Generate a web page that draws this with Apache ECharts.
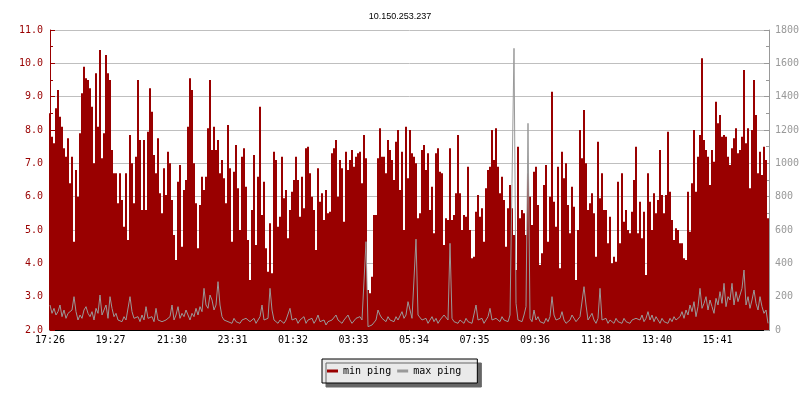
<!DOCTYPE html>
<html>
<head>
<meta charset="utf-8">
<script src="https://cdn.jsdelivr.net/npm/echarts@6/dist/echarts.min.js"></script>
<style>
  html, body { margin: 0; padding: 0; background: #fff; }
</style>
</head>
<body>
<div id="chart" style="width: 800px; height: 400px;"></div>
<script>
// one sample every 4 minutes, starting at 17:26
const startTime = '17:26';
const stepMinutes = 4;

const tickLabels = ['17:26', '19:27', '21:30', '23:31', '01:32', '03:33',
  '05:34', '07:35', '09:36', '11:38', '13:40', '15:41'];

// min ping, left axis
const minPing = [
  8.5, 7.8, 7.6, 8.65, 9.2, 8.4, 8.1, 7.45, 7.2, 7.75,
  6.4, 7.2, 4.65, 6.8, 6.0, 7.9, 9.1, 9.9, 9.55, 9.5,
  9.25, 8.7, 7.0, 9.7, 8.1, 10.4, 7.15, 7.9, 10.25, 9.7,
  9.5, 7.4, 6.7, 6.7, 5.8, 6.7, 5.9, 5.1, 6.7, 4.7,
  7.85, 7.0, 5.8, 7.2, 9.5, 7.7, 5.6, 7.7, 5.6, 7.95,
  9.25, 8.55, 7.25, 6.7, 7.75, 6.1, 5.5, 6.85, 6.05, 7.35,

  7.0, 5.9, 4.85, 4.1, 6.45, 6.95, 4.5, 6.2, 6.5, 8.1,
  9.55, 9.2, 7.0, 5.8, 4.45, 5.75, 6.6, 6.2, 6.6, 8.05,
  9.5, 7.4, 8.1, 7.4, 7.7, 6.7, 7.1, 6.55, 5.8, 8.15,
  6.85, 4.65, 6.75, 7.55, 6.25, 5.0, 7.2, 7.45, 6.3, 4.7,
  3.5, 5.6, 7.25, 4.55, 6.6, 8.7, 5.45, 6.45, 4.45, 3.75,
  5.2, 3.7, 7.35, 7.1, 5.1, 5.4, 7.2, 5.95, 6.2, 4.75,

  5.6, 6.15, 6.5, 7.2, 6.5, 5.4, 6.6, 5.65, 7.45, 7.5,
  6.7, 6.0, 5.6, 4.4, 6.85, 5.85, 6.1, 5.3, 6.2, 5.5,
  5.55, 7.3, 7.45, 7.7, 6.0, 7.1, 6.85, 5.25, 7.35, 6.8,
  7.1, 7.4, 6.9, 7.2, 7.3, 7.35, 6.4, 7.85, 7.15, 3.2,
  3.1, 3.6, 5.45, 5.45, 7.15, 8.05, 7.2, 7.2, 6.7, 7.7,
  7.4, 7.1, 6.5, 7.65, 8.0, 6.2, 7.35, 5.0, 8.1, 6.55,

  8.0, 7.3, 7.2, 7.0, 5.35, 5.5, 7.4, 7.55, 6.8, 7.3,
  5.6, 6.3, 4.9, 7.3, 7.45, 6.75, 6.7, 4.55, 5.35, 5.3,
  7.45, 5.3, 5.45, 6.1, 7.85, 6.1, 5.0, 5.45, 5.4, 6.9,
  5.0, 4.15, 4.2, 5.55, 6.05, 5.4, 5.65, 4.65, 6.25, 6.8,
  6.9, 8.0, 7.1, 8.05, 6.9, 6.1, 6.6, 5.9, 4.5, 5.65,
  6.35, 5.65, 4.85, 3.8, 7.5, 5.35, 5.6, 5.5, 4.85, 6.7,

  6.0, 5.15, 6.75, 6.9, 5.75, 3.95, 4.3, 6.35, 6.95, 4.65,
  6.0, 9.15, 5.85, 5.1, 6.9, 3.85, 7.35, 6.55, 7.0, 5.75,
  4.9, 6.3, 5.7, 3.5, 5.0, 8.0, 7.15, 8.6, 7.0, 5.6,
  5.8, 6.1, 5.5, 4.2, 7.65, 5.95, 6.7, 5.6, 5.6, 4.6,
  5.4, 4.0, 4.2, 4.05, 6.45, 4.6, 6.7, 5.25, 5.6, 5.0,
  4.9, 5.55, 6.5, 7.5, 4.9, 5.85, 4.75, 5.55, 3.65, 6.7,

  5.85, 5.0, 6.1, 5.5, 5.9, 7.4, 6.05, 5.5, 6.05, 7.95,
  6.15, 5.3, 4.7, 5.05, 5.0, 4.6, 4.6, 4.15, 4.1, 6.15,
  4.95, 6.4, 8.0, 6.15, 7.2, 7.85, 10.15, 7.7, 7.4, 7.2,
  6.35, 7.4, 7.05, 8.85, 8.2, 8.45, 7.8, 7.85, 7.8, 7.2,
  6.95, 7.45, 7.75, 8.05, 7.3, 7.4, 7.8, 9.8, 7.6, 8.05,
  6.25, 8.0, 9.5, 8.45, 6.7, 7.35, 6.65, 7.5, 7.1, 5.35
];

// max ping, right axis
const maxPing = [
  150, 100, 130, 90, 110, 150, 80, 120, 70, 100,
  90, 120, 200, 110, 60, 90, 70, 120, 140, 100,
  80, 110, 60, 130, 100, 210, 90, 120, 150, 70,
  200, 130, 80, 100, 60, 70, 50, 80, 60, 50,
  200, 110, 70, 60, 80, 50, 90, 60, 140, 70,
  60, 80, 50, 130, 60, 70, 50, 40, 60, 50,

  80, 150, 60, 90, 140, 70, 100, 80, 120, 90,
  60, 100, 80, 130, 90, 140, 110, 250, 150, 130,
  210, 180, 120, 150, 290, 150, 80, 60, 70, 50,
  60, 40, 70, 50, 60, 40, 60, 50, 70, 80,
  50, 60, 70, 40, 60, 80, 150, 60, 50, 70,
  250, 120, 60, 50, 40, 60, 50, 40, 60, 50,

  130, 60, 50, 70, 40, 60, 50, 80, 40, 60,
  50, 70, 40, 60, 90, 50, 40, 60, 30, 50,
  40, 60, 50, 90, 60, 50, 40, 60, 50, 90,
  60, 40, 50, 70, 60, 80, 60, 70, 530, 20,
  20, 30, 20, 60, 120, 90, 70, 60, 50, 80,
  60, 70, 50, 80, 60, 50, 110, 70, 90, 170,

  160, 70, 60, 545, 90, 100, 60, 50, 70, 40,
  60, 80, 50, 70, 40, 60, 50, 90, 80, 60,
  520, 70, 50, 60, 40, 60, 50, 40, 70, 50,
  60, 40, 50, 150, 60, 50, 70, 40, 60, 80,
  130, 60, 50, 70, 60, 50, 80, 60, 70, 50,
  90, 880, 1690, 160, 60, 70, 50, 90, 140, 1240,

  70, 50, 120, 60, 80, 50, 60, 40, 70, 50,
  80, 200, 90, 60, 50, 70, 110, 60, 40, 50,
  60, 90, 100, 50, 60, 80, 70, 260, 150, 60,
  50, 100, 60, 40, 70, 250, 60, 50, 70, 40,
  60, 50, 40, 70, 50, 60, 40, 70, 50, 60,
  40, 60, 50, 70, 80, 60, 90, 50, 70, 110,

  60, 90, 50, 80, 60, 40, 70, 50, 60, 40,
  70, 50, 80, 60, 50, 80, 110, 70, 120, 90,
  150, 110, 170, 80, 140, 250, 130, 160, 200, 120,
  180, 140, 100, 190, 150, 230, 160, 280, 140, 200,
  180, 280, 150, 230, 170, 210, 250, 360, 150, 200,
  130, 180, 240, 160, 120, 200, 140, 100, 120, 40
];

function toMinutes(s) {
  const p = s.split(':');
  return parseInt(p[0], 10) * 60 + parseInt(p[1], 10);
}
const t0 = toMinutes(startTime);
const tickMinutes = tickLabels.map(function (s) {
  return (toMinutes(s) - t0 + 1440) % 1440;
});

const minData = minPing.map(function (v, i) { return [i * stepMinutes, v]; });
const maxData = maxPing.map(function (v, i) { return [i * stepMinutes, v]; });

const mono = 'DejaVu Sans Mono';
const red = '#990000';
const gray = '#999999';

const chart = echarts.init(document.getElementById('chart'), null, { renderer: 'canvas' });
const option = {
  animation: false,
  backgroundColor: '#ffffff',
  title: {
    text: '10.150.253.237',
    left: 'center',
    top: 7,
    textStyle: { fontFamily: 'Liberation Sans', fontSize: 9, fontWeight: 'normal', color: '#000' }
  },
  grid: { left: 50, right: 31, top: 30, bottom: 70, containLabel: false, outerBoundsMode: 'none' },
  legend: {
    left: 322,
    top: 359,
    orient: 'horizontal',
    icon: 'rect',
    itemWidth: 11,
    itemHeight: 3,
    itemGap: 6,
    padding: [7, 16, 7, 5],
    backgroundColor: '#eaeaea',
    borderColor: '#000',
    borderWidth: 1,
    borderRadius: 0,
    shadowColor: '#666666',
    shadowBlur: 0,
    shadowOffsetX: 4,
    shadowOffsetY: 4,
    textStyle: { fontFamily: mono, fontSize: 10, color: '#000' },
    data: ['min ping', 'max ping']
  },
  xAxis: {
    type: 'value',
    min: 0,
    max: 1438,
    axisLine: { lineStyle: { color: '#000', width: 1 } },
    axisTick: { inside: true, length: 5, lineStyle: { color: '#000' }, customValues: tickMinutes },
    axisLabel: {
      customValues: tickMinutes,
      margin: 5,
      fontFamily: mono,
      fontSize: 10,
      color: '#000',
      formatter: function (v) {
        const k = tickMinutes.indexOf(v);
        return k >= 0 ? tickLabels[k] : '';
      }
    },
    splitLine: { show: false }
  },
  yAxis: [
    {
      type: 'value',
      min: 2,
      max: 11,
      interval: 1,
      axisLine: { show: true, lineStyle: { color: red } },
      axisTick: { show: true, inside: true, length: 5, lineStyle: { color: red } },
      minorTick: { show: true, splitNumber: 2, length: 3, lineStyle: { color: red } },
      axisLabel: {
        margin: 7,
        fontFamily: mono,
        fontSize: 10,
        color: red,
        formatter: function (v) { return v.toFixed(1); }
      },
      splitLine: { show: true, lineStyle: { color: '#bfbfbf', width: 1 } }
    },
    {
      type: 'value',
      position: 'right',
      min: 0,
      max: 1800,
      interval: 200,
      axisLine: { show: true, lineStyle: { color: gray } },
      axisTick: { show: true, inside: true, length: 5, lineStyle: { color: gray } },
      minorTick: { show: true, splitNumber: 2, length: 3, lineStyle: { color: gray } },
      axisLabel: {
        margin: 6, fontFamily: mono, fontSize: 10, color: gray,
        formatter: function (v) { return String(v); }
      },
      splitLine: { show: false }
    }
  ],
  series: [
    {
      name: 'min ping',
      type: 'bar',
      yAxisIndex: 0,
      barWidth: 2,
      color: red,
      itemStyle: { color: red },
      data: minData
    },
    {
      name: 'max ping',
      type: 'line',
      yAxisIndex: 1,
      symbol: 'none',
      color: gray,
      lineStyle: { width: 1, color: gray },
      data: maxData
    }
  ]
};
chart.setOption(option);
</script>
</body>
</html>
